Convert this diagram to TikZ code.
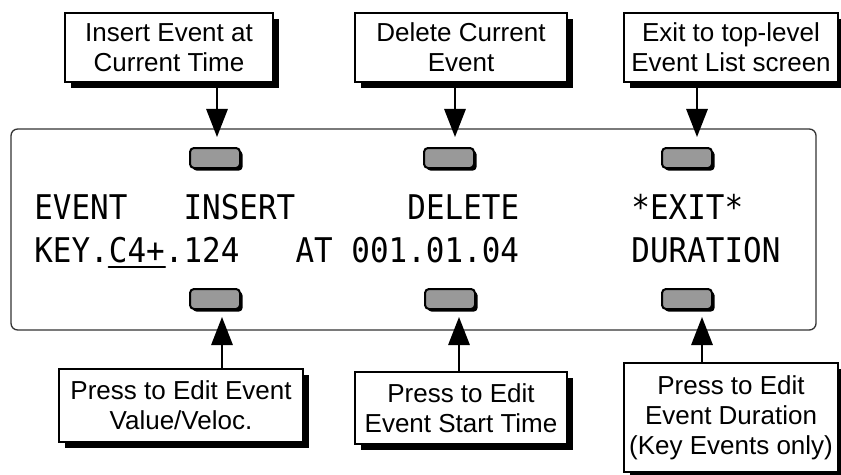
\documentclass[tikz,border=0pt]{standalone}
\usepackage{fontspec}
\setmainfont{Liberation Sans}
\setmonofont{DejaVu Sans Mono}
\usetikzlibrary{arrows.meta,shadows}

\newcommand{\lcdtxt}[1]{\scalebox{1}[1.1]{#1}}
\def\cw{18.66}
\def\lx{34}

\begin{document}
\begin{tikzpicture}[x=0.75pt,y=-0.75pt,>={Triangle[length=21pt,width=16pt]},line cap=round,
  callout/.style={draw,line width=1.5pt,fill=white,align=center,inner sep=0pt,
    font=\fontsize{19.5}{22.5}\selectfont,
    drop shadow={shadow xshift=4.5pt,shadow yshift=-4.5pt,fill=black,opacity=1}},
  softkey/.style={draw,line width=1.5pt,fill=black!40,rounded corners=3pt,
    minimum width=37.5pt,minimum height=15pt,inner sep=0pt,
    drop shadow={shadow xshift=2pt,shadow yshift=-2pt,fill=black,opacity=1}},
  lcd/.style={anchor=base west,inner sep=0pt,font=\fontsize{23.2}{24}\selectfont\ttfamily},
  pointer/.style={->,line width=1.5pt}]
\useasboundingbox (0,0) rectangle (841,474);

% display panel
\draw[line width=1pt,black!80,rounded corners=5pt] (11,129) rectangle (816,330);

% soft keys
\node[softkey] (b1) at (215,158) {};
\node[softkey] (b2) at (449,158) {};
\node[softkey] (b3) at (687,158) {};
\node[softkey] (b4) at (215,299) {};
\node[softkey] (b5) at (450,299) {};
\node[softkey] (b6) at (687,299) {};

% LCD lines, 40 columns
\node[lcd] (l1a) at ({\lx+0*\cw},219) {\lcdtxt{EVENT}};
\node[lcd] (l1b) at ({\lx+8*\cw},219) {\lcdtxt{INSERT}};
\node[lcd] (l1c) at ({\lx+20*\cw},219) {\lcdtxt{DELETE}};
\node[lcd] (l1d) at ({\lx+32*\cw},219) {\lcdtxt{*EXIT*}};
\node[lcd] (key) at ({\lx+0*\cw},262) {\lcdtxt{KEY.}};
\node[lcd] (c4) at ({\lx+4*\cw},262) {\lcdtxt{C4+}};
\node[lcd] (vel) at ({\lx+7*\cw},262) {\lcdtxt{.124}};
\node[lcd] (at) at ({\lx+14*\cw},262) {\lcdtxt{AT}};
\node[lcd] (tm) at ({\lx+17*\cw},262) {\lcdtxt{001.01.04}};
\node[lcd] (l2d) at ({\lx+32*\cw},262) {\lcdtxt{DURATION}};
\draw[line width=1.5pt] ([yshift=-3.6pt]c4.base west) -- ([yshift=-3.6pt]c4.base east);

% callouts
\node[callout,minimum width=156pt,minimum height=51.75pt] (ins) at (169,47.5) {Insert Event at\\Current Time};
\node[callout,minimum width=159pt,minimum height=51.75pt] (del) at (461,47.5) {Delete Current\\Event};
\node[callout,minimum width=160.5pt,minimum height=51.75pt] (ext) at (731,47.5) {Exit to top-level\\Event List screen};
\node[callout,minimum width=183pt,minimum height=54.75pt] (val) at (181,405.5) {Press to Edit Event\\Value/Veloc.};
\node[callout,minimum width=159pt,minimum height=54pt] (stt) at (461,408) {Press to Edit\\Event Start Time};
\node[callout,minimum width=160.5pt,minimum height=81.75pt] (dur) at (731,417.5) {Press to Edit\\Event Duration\\(Key Events only)};

% arrows
\coordinate (t1) at (217,137);
\coordinate (t2) at (455,137);
\coordinate (t3) at (697,137);
\coordinate (t4) at (222,317);
\coordinate (t5) at (459,317);
\coordinate (t6) at (702,317);
\draw[pointer] (ins.south -| t1) -- (t1);
\draw[pointer] (del.south -| t2) -- (t2);
\draw[pointer] (ext.south -| t3) -- (t3);
\draw[pointer] (val.north -| t4) -- (t4);
\draw[pointer] (stt.north -| t5) -- (t5);
\draw[pointer] (dur.north -| t6) -- (t6);
\end{tikzpicture}
\end{document}
